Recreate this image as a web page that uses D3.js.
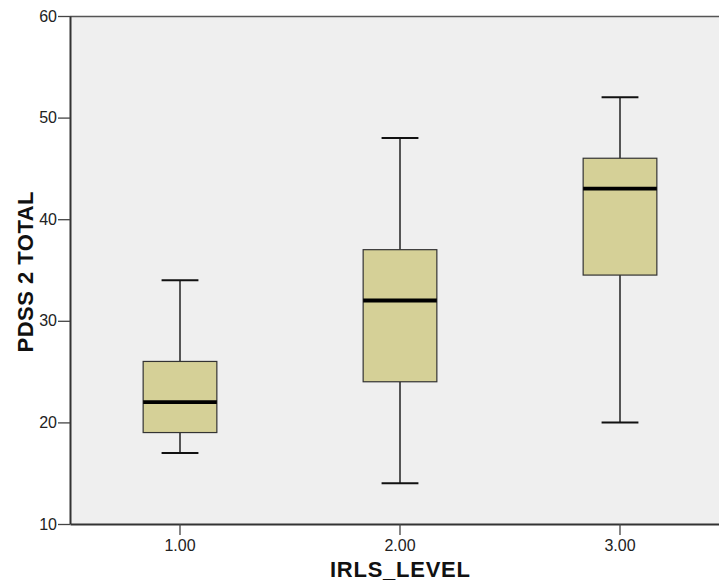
<!DOCTYPE html>
<html>
<head>
<meta charset="utf-8">
<script src="https://cdnjs.cloudflare.com/ajax/libs/d3/7.8.5/d3.min.js"></script>
<style>
  body { margin: 0; background: #fff; }
  text { font-family: "Liberation Sans", Arial, sans-serif; }
</style>
</head>
<body>
<svg id="chart"></svg>
<script>
const levels = ["1.00", "2.00", "3.00"];
const whiskerLow = [17, 14, 20];
const q1 = [19, 24, 34.5];
const medians = [22, 32, 43];
const q3 = [26, 37, 46];
const whiskerHigh = [34, 48, 52];
const yTicks = [10, 20, 30, 40, 50, 60];

const margin = { top: 16, right: -11, bottom: 60, left: 70 };
const width = 719 - margin.left - margin.right;
const height = 584 - margin.top - margin.bottom;

const svg = d3.select("#chart")
    .attr("width", 719)
    .attr("height", 584);

const g = svg.append("g")
    .attr("transform", `translate(${margin.left},${margin.top})`);

const x = d3.scaleBand()
    .domain(levels)
    .range([0, width]);

const y = d3.scaleLinear()
    .domain([10, 60])
    .range([height, 0]);

// plot background
g.append("rect")
    .attr("width", width)
    .attr("height", height)
    .attr("fill", "#efefef");

g.append("line")
    .attr("x1", 0).attr("x2", width)
    .attr("y1", 0.5).attr("y2", 0.5)
    .attr("stroke", "#555")
    .attr("stroke-width", 1.5);

const data = levels.map((d, i) => ({
    level: d, lo: whiskerLow[i], q1: q1[i], med: medians[i], q3: q3[i], hi: whiskerHigh[i]
}));

const boxW = x.bandwidth() * 0.335;
const capW = boxW / 2;

const boxes = g.selectAll(".box")
    .data(data)
    .enter().append("g")
    .attr("class", "box")
    .attr("transform", d => `translate(${x(d.level) + x.bandwidth() / 2},0)`);

// whiskers
boxes.append("line")
    .attr("x1", 0).attr("x2", 0)
    .attr("y1", d => y(d.hi)).attr("y2", d => y(d.q3))
    .attr("stroke", "#222").attr("stroke-width", 1.5);
boxes.append("line")
    .attr("x1", 0).attr("x2", 0)
    .attr("y1", d => y(d.q1)).attr("y2", d => y(d.lo))
    .attr("stroke", "#222").attr("stroke-width", 1.5);
boxes.append("line")
    .attr("x1", -capW / 2).attr("x2", capW / 2)
    .attr("y1", d => y(d.hi)).attr("y2", d => y(d.hi))
    .attr("stroke", "#111").attr("stroke-width", 2);
boxes.append("line")
    .attr("x1", -capW / 2).attr("x2", capW / 2)
    .attr("y1", d => y(d.lo)).attr("y2", d => y(d.lo))
    .attr("stroke", "#111").attr("stroke-width", 2);

// box
boxes.append("rect")
    .attr("x", -boxW / 2)
    .attr("width", boxW)
    .attr("y", d => y(d.q3))
    .attr("height", d => y(d.q1) - y(d.q3))
    .attr("fill", "#d5d097")
    .attr("stroke", "#333")
    .attr("stroke-width", 1.2);

// median
boxes.append("line")
    .attr("x1", -boxW / 2).attr("x2", boxW / 2)
    .attr("y1", d => y(d.med)).attr("y2", d => y(d.med))
    .attr("stroke", "#000").attr("stroke-width", 3.8);

// axes
const yAxis = g.append("g")
    .call(d3.axisLeft(y).tickValues(yTicks).tickSize(12).tickSizeOuter(0).tickPadding(1).tickFormat(d3.format("d")));
const xAxis = g.append("g")
    .attr("transform", `translate(0,${height})`)
    .call(d3.axisBottom(x).tickSize(11).tickSizeOuter(0).tickPadding(5));

[yAxis, xAxis].forEach(a => {
    a.select(".domain").attr("stroke", "#333").attr("stroke-width", 2);
    a.selectAll(".tick line").attr("stroke", "#444").attr("stroke-width", 1.3);
    a.selectAll(".tick text")
        .attr("fill", "#222")
        .style("font-family", "'Liberation Sans', Arial, sans-serif")
        .style("font-size", "16px");
});

// axis titles
svg.append("text")
    .attr("x", margin.left + (x("2.00") + x.bandwidth() / 2))
    .attr("y", 577)
    .attr("text-anchor", "middle")
    .attr("font-weight", "bold")
    .attr("font-size", "22px")
    .attr("textLength", 140)
    .attr("lengthAdjust", "spacing")
    .attr("fill", "#111")
    .text("IRLS_LEVEL");

svg.append("text")
    .attr("transform", `translate(33,${margin.top + height / 2 + 2}) rotate(-90)`)
    .attr("text-anchor", "middle")
    .attr("font-weight", "bold")
    .attr("font-size", "22px")
    .attr("textLength", 161)
    .attr("lengthAdjust", "spacing")
    .attr("fill", "#111")
    .text("PDSS 2 TOTAL");
</script>
</body>
</html>
